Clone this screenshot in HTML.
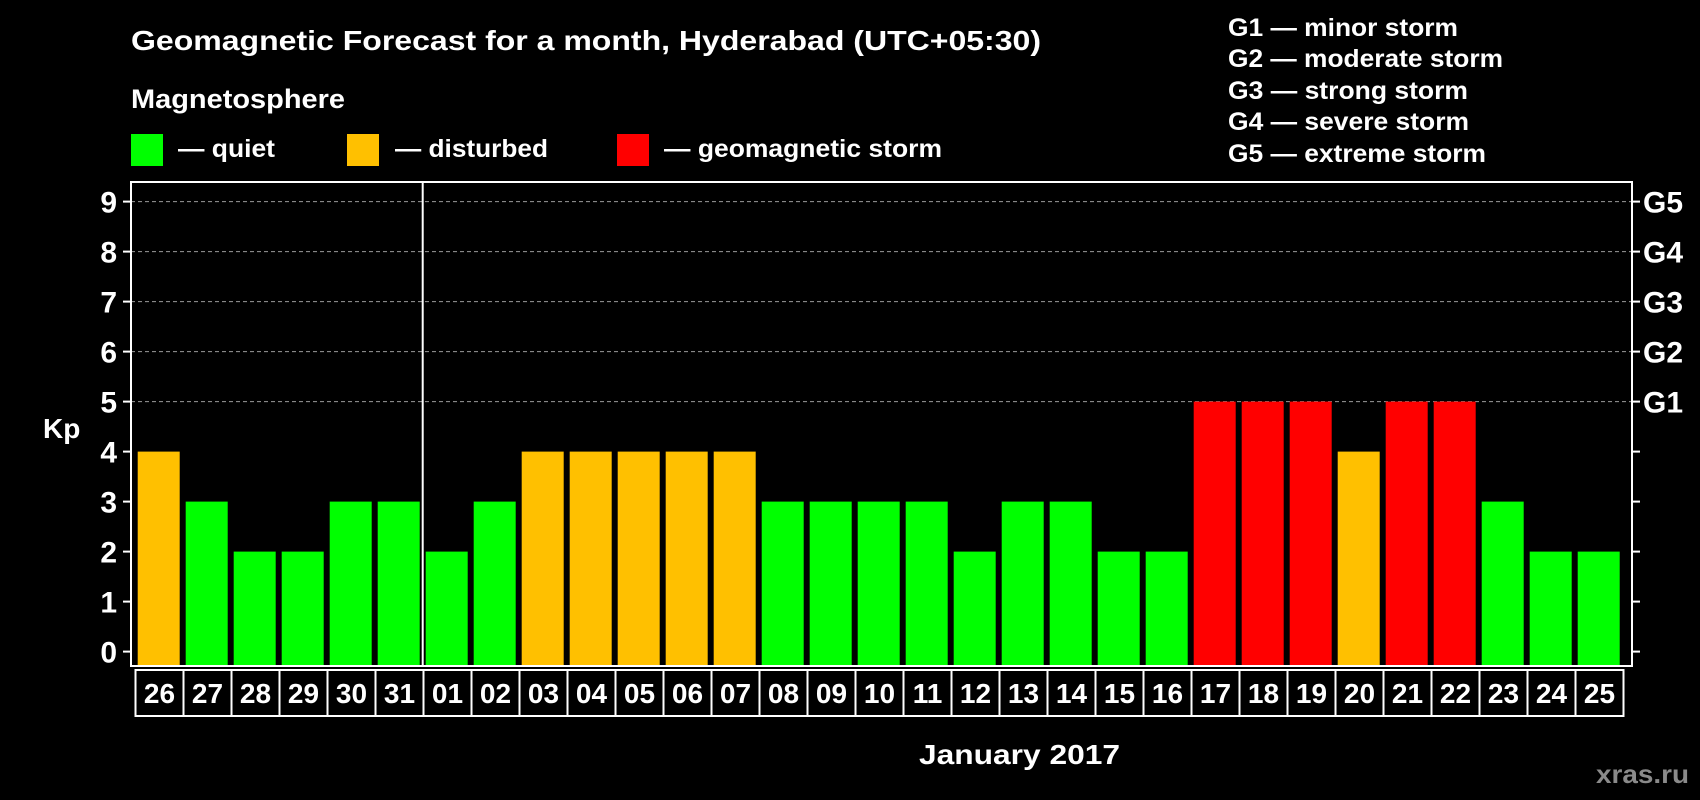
<!DOCTYPE html>
<html><head><meta charset="utf-8"><style>
html,body{margin:0;padding:0;background:#000;}
svg{display:block;font-family:"Liberation Sans",sans-serif;font-weight:bold;}
</style></head><body>
<svg id="chart" width="1700" height="800" viewBox="0 0 1700 800">
<rect x="0" y="0" width="1700" height="800" fill="#000"/>
<text x="131" y="50" font-size="28" fill="#fff" textLength="910" lengthAdjust="spacingAndGlyphs">Geomagnetic Forecast for a month, Hyderabad (UTC+05:30)</text>
<text x="131" y="108" font-size="27" fill="#fff" textLength="214" lengthAdjust="spacingAndGlyphs">Magnetosphere</text>
<rect x="131" y="134" width="32" height="32" fill="#00ff00"/>
<text x="178" y="157" font-size="25" fill="#fff" textLength="97" lengthAdjust="spacingAndGlyphs">— quiet</text>
<rect x="347" y="134" width="32" height="32" fill="#ffc000"/>
<text x="395" y="157" font-size="25" fill="#fff" textLength="153" lengthAdjust="spacingAndGlyphs">— disturbed</text>
<rect x="617" y="134" width="32" height="32" fill="#ff0000"/>
<text x="664" y="157" font-size="25" fill="#fff" textLength="278" lengthAdjust="spacingAndGlyphs">— geomagnetic storm</text>
<g font-size="25" fill="#fff">
<text x="1228" y="36" textLength="230" lengthAdjust="spacingAndGlyphs">G1 — minor storm</text>
<text x="1228" y="67" textLength="275" lengthAdjust="spacingAndGlyphs">G2 — moderate storm</text>
<text x="1228" y="99" textLength="240" lengthAdjust="spacingAndGlyphs">G3 — strong storm</text>
<text x="1228" y="130" textLength="241" lengthAdjust="spacingAndGlyphs">G4 — severe storm</text>
<text x="1228" y="162" textLength="258" lengthAdjust="spacingAndGlyphs">G5 — extreme storm</text>
</g>
<text x="43" y="438" font-size="28" fill="#fff">Kp</text>
<text x="919" y="764" font-size="28" fill="#fff" textLength="201" lengthAdjust="spacingAndGlyphs">January 2017</text>
<text x="1596" y="783" font-size="26" fill="#8a8a8a" textLength="93" lengthAdjust="spacingAndGlyphs">xras.ru</text>
<g id="plot"></g>
</svg>
<script>
const days = ["26","27","28","29","30","31","01","02","03","04","05","06","07","08","09","10","11","12","13","14","15","16","17","18","19","20","21","22","23","24","25"];
const kpValues = [4,3,2,2,3,3,2,3,4,4,4,4,4,3,3,3,3,2,3,3,2,2,5,5,5,4,5,5,3,2,2];
const yTicks = [0,1,2,3,4,5,6,7,8,9];
const gLabels = ["G1","G2","G3","G4","G5"];
const gLevels = [5,6,7,8,9];

const NS = "http://www.w3.org/2000/svg";
const plot = document.getElementById('plot');
const L = 131, R = 1632, T = 182, B = 666;
const y0 = 651.6, unit = 50;
const step = 48, firstX = 137.7, barW = 42;
function yScale(v){ return y0 - v*unit; }
function xScale(i){ return firstX + i*step; }
function mk(tag, attrs){ const e = document.createElementNS(NS, tag); for (const k in attrs) e.setAttribute(k, attrs[k]); plot.appendChild(e); return e; }
function colorFor(v){ return v >= 5 ? "#ff0000" : (v >= 4 ? "#ffc000" : "#00ff00"); }

gLevels.forEach(function(v){
  const g = mk('line', {x1:L, x2:R, y1:yScale(v), y2:yScale(v), stroke:"#9a9a9a", "stroke-width":1, "stroke-dasharray":"4,3"});
  
  
});
kpValues.forEach(function(v, i){
  const b = mk('rect', {x:xScale(i), y:yScale(v), width:barW, height:(v*unit + (B - y0) - 1), fill:colorFor(v)});
  
  
});
const fr = mk('rect', {x:L, y:T, width:R-L, height:B-T, fill:"none", stroke:"#fff", "stroke-width":2});


const sepX = (xScale(5) + barW + xScale(6)) / 2;
const sep = mk('line', {x1:sepX, x2:sepX, y1:T, y2:B, stroke:"#fff", "stroke-width":2});


yTicks.forEach(function(v){
  const t1 = mk('line', {x1:L-8, x2:L, y1:yScale(v), y2:yScale(v), stroke:"#fff", "stroke-width":2});
  
  
  const t2 = mk('line', {x1:R, x2:R+8, y1:yScale(v), y2:yScale(v), stroke:"#fff", "stroke-width":2});
  
  
  const lb = mk('text', {x:117, y:yScale(v)+11, "text-anchor":"end", "font-size":30, fill:"#fff"});
  lb.textContent = v;
  
  
});
gLabels.forEach(function(g, i){
  const lb = mk('text', {x:1643, y:yScale(gLevels[i])+11, "font-size":30, fill:"#fff"});
  lb.textContent = g;
  
  
});
days.forEach(function(d, i){
  const bx = 135.5 + i*step;
  const r = mk('rect', {x:bx, y:670, width:step, height:46, fill:"none", stroke:"#fff", "stroke-width":2});
  
  
  const t = mk('text', {x:bx + step/2, y:703, "text-anchor":"middle", "font-size":28, fill:"#fff"});
  t.textContent = d;
  
  
});
</script>
</body></html>
